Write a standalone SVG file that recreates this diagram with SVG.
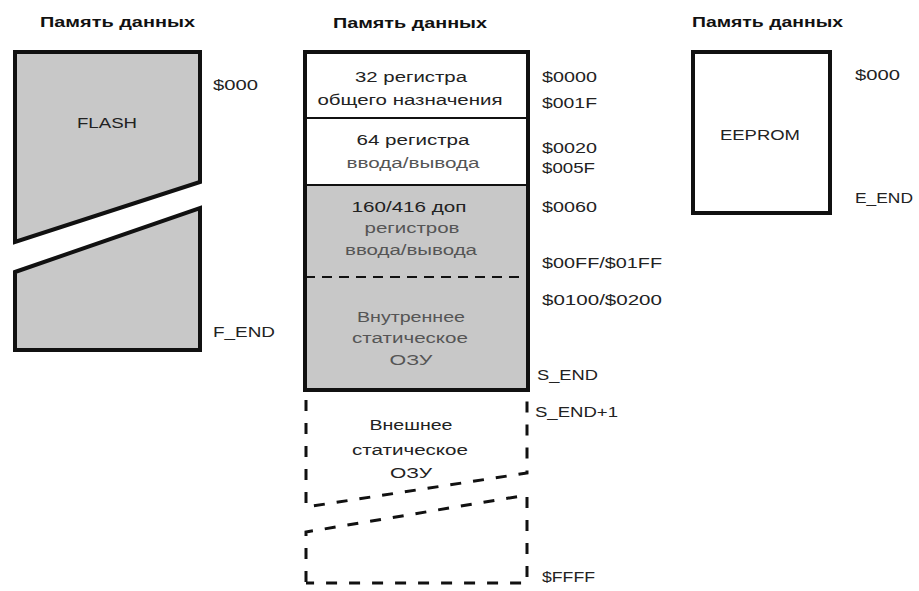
<svg xmlns="http://www.w3.org/2000/svg" width="919" height="591" viewBox="0 0 919 591">
<style>
text{font-family:"Liberation Sans",Arial,sans-serif;font-size:14px;fill:#222}
.t{font-weight:bold;font-size:15px;fill:#111}
.c{text-anchor:middle}
.g{fill:#555}
.box{fill:#c8c8c8;stroke:#111;stroke-width:4;stroke-linejoin:miter}
.wb{fill:#fff;stroke:#111;stroke-width:4}
.thin{stroke:#111;stroke-width:2;fill:none}
.dash{stroke:#111;stroke-width:3;fill:none;stroke-dasharray:11 12}
</style>
<rect width="919" height="591" fill="#fff"/>

<g id="flash">
<text class="t" x="40" y="27" textLength="155" lengthAdjust="spacingAndGlyphs">Память данных</text>
<polygon class="box" points="15,52 200,52 200,182 15,242"/>
<polygon class="box" points="15,272 200,208 200,350 15,350"/>
<text class="c" x="107" y="128" textLength="60" lengthAdjust="spacingAndGlyphs">FLASH</text>
<text x="213" y="90" textLength="45" lengthAdjust="spacingAndGlyphs">$000</text>
<text x="213" y="337" textLength="62" lengthAdjust="spacingAndGlyphs">F_END</text>
</g>

<g id="sram">
<text class="t" x="333" y="28" textLength="154" lengthAdjust="spacingAndGlyphs">Память данных</text>
<rect x="305" y="185" width="223" height="205" fill="#c8c8c8"/>
<rect x="305" y="52" width="223" height="338" fill="none" stroke="#111" stroke-width="4"/>
<line class="thin" x1="305" y1="118" x2="528" y2="118"/>
<line class="thin" x1="305" y1="185" x2="528" y2="185"/>
<line x1="305" y1="277" x2="528" y2="277" stroke="#111" stroke-width="2" stroke-dasharray="10 7"/>
<text class="c" x="411" y="82" textLength="112" lengthAdjust="spacingAndGlyphs">32 регистра</text>
<text class="c" x="410" y="105" textLength="185" lengthAdjust="spacingAndGlyphs">общего назначения</text>
<text class="c" x="413" y="145" textLength="113" lengthAdjust="spacingAndGlyphs">64 регистра</text>
<text class="c g" x="413" y="168" textLength="133" lengthAdjust="spacingAndGlyphs">ввода/вывода</text>
<text class="c" x="409" y="212" textLength="115" lengthAdjust="spacingAndGlyphs">160/416 доп</text>
<text class="c g" x="412" y="233" textLength="95" lengthAdjust="spacingAndGlyphs">регистров</text>
<text class="c g" x="411" y="255" textLength="132" lengthAdjust="spacingAndGlyphs">ввода/вывода</text>
<text class="c g" x="411" y="322" textLength="108" lengthAdjust="spacingAndGlyphs">Внутреннее</text>
<text class="c g" x="410" y="343" textLength="116" lengthAdjust="spacingAndGlyphs">статическое</text>
<text class="c g" x="411" y="365" textLength="43" lengthAdjust="spacingAndGlyphs">ОЗУ</text>
<text x="542" y="82" textLength="55" lengthAdjust="spacingAndGlyphs">$0000</text>
<text x="542" y="108" textLength="55" lengthAdjust="spacingAndGlyphs">$001F</text>
<text x="542" y="153" textLength="55" lengthAdjust="spacingAndGlyphs">$0020</text>
<text x="542" y="173" textLength="53" lengthAdjust="spacingAndGlyphs">$005F</text>
<text x="542" y="212" textLength="55" lengthAdjust="spacingAndGlyphs">$0060</text>
<text x="542" y="268" textLength="120" lengthAdjust="spacingAndGlyphs">$00FF/$01FF</text>
<text x="542" y="305" textLength="120" lengthAdjust="spacingAndGlyphs">$0100/$0200</text>
<text x="537" y="380" textLength="61" lengthAdjust="spacingAndGlyphs">S_END</text>
</g>

<g id="external">
<polyline class="dash" points="306,400 306,507 527,473 527,400"/>
<polyline class="dash" points="306,582 306,532 527,495 527,583 306,583"/>
<text class="c" x="411" y="430" textLength="83" lengthAdjust="spacingAndGlyphs">Внешнее</text>
<text class="c" x="410" y="455" textLength="116" lengthAdjust="spacingAndGlyphs">статическое</text>
<text class="c" x="411" y="478" textLength="42" lengthAdjust="spacingAndGlyphs">ОЗУ</text>
<text x="535" y="417" textLength="83" lengthAdjust="spacingAndGlyphs">S_END+1</text>
<text x="542" y="582" textLength="53" lengthAdjust="spacingAndGlyphs">$FFFF</text>
</g>

<g id="eeprom">
<text class="t" x="692" y="27" textLength="151" lengthAdjust="spacingAndGlyphs">Память данных</text>
<rect class="wb" x="693" y="52" width="137" height="161"/>
<text class="c" x="760" y="140" textLength="80" lengthAdjust="spacingAndGlyphs">EEPROM</text>
<text x="855" y="80" textLength="45" lengthAdjust="spacingAndGlyphs">$000</text>
<text x="855" y="203" textLength="58" lengthAdjust="spacingAndGlyphs">E_END</text>
</g>
</svg>
